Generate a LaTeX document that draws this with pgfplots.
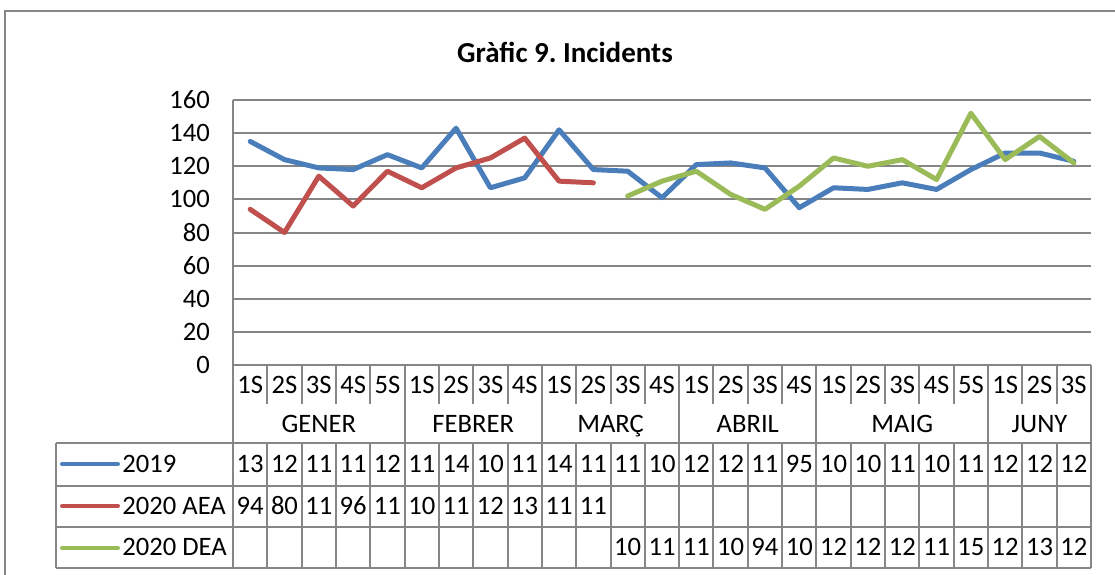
\documentclass[border=0pt]{standalone}
\usepackage{fontspec}
\setmainfont{Carlito}
\usepackage{pgfplots}
\pgfplotsset{compat=1.18}
\usepackage{pgfplotstable}

\definecolor{c2019}{RGB}{74,126,187}
\definecolor{cAEA}{RGB}{192,80,77}
\definecolor{cDEA}{RGB}{155,187,89}
\definecolor{linegray}{RGB}{134,134,134}

% weeks are numbered 0..24 (GENER 1S .. JUNY 3S)
\pgfplotstableread{
x y
0 135
1 124
2 119
3 118
4 127
5 119
6 143
7 107
8 113
9 142
10 118
11 117
12 101
13 121
14 122
15 119
16 95
17 107
18 106
19 110
20 106
21 118
22 128
23 128
24 123
}\tabA
\pgfplotstableread{
x y
0 94
1 80
2 114
3 96
4 117
5 107
6 119
7 125
8 137
9 111
10 110
}\tabB
\pgfplotstableread{
x y
11 102
12 111
13 117
14 103
15 94
16 108
17 125
18 120
19 124
20 112
21 152
22 124
23 138
24 122
}\tabC

\def\cw{34.32}
\newcommand\body{\fontsize{13.3}{16}\selectfont}
\frenchspacing

\begin{document}
\begin{tikzpicture}
\begin{axis}[
  at={(116.5pt,-182.5pt)}, anchor=south west,
  scale only axis, width=429pt, height=132.5pt,
  xmin=-0.5, xmax=24.5, ymin=0, ymax=160,
  ytick={0,20,...,160}, xtick=\empty,
  axis lines*=left,
  axis line style={linegray, line width=1pt, -},
  ymajorgrids,
  grid style={linegray, line width=1pt},
  major tick length=0pt,
  tick label style={font=\body},
  yticklabel style={xshift=-8pt},
  /pgf/number format/assume math mode=true,
  clip=false,
]
\addplot[c2019, line width=2.5pt, line join=round, line cap=round] table[x=x,y=y] {\tabA};
\addplot[cAEA, line width=2.5pt, line join=round, line cap=round] table[x=x,y=y] {\tabB};
\addplot[cDEA, line width=2.5pt, line join=round, line cap=round] table[x=x,y=y] {\tabC};
\end{axis}

\begin{scope}[x=0.5pt,y=-0.5pt]
\path[use as bounding box] (0,0) rectangle (1115,574);
\draw[linegray, line width=1pt] (5,590) -- (5,11) -- (1130,11);
\node[font=\fontsize{14.5}{17}\selectfont\bfseries, anchor=base, inner sep=0pt] at (565,62) {Gràfic 9. Incidents};

% data table under the axis
\begin{scope}[linegray, line width=1pt]
  \foreach \k in {1,2,3,4,6,7,8,10,11,12,14,15,16,18,19,20,21,23,24}
    \draw ({233+\k*\cw},365) -- ({233+\k*\cw},404);
  \foreach \k in {0,5,9,13,17,22,25}
    \draw ({233+\k*\cw},365) -- ({233+\k*\cw},568);
  \foreach \k in {1,2,3,4,6,7,8,10,11,12,14,15,16,18,19,20,21,23,24}
    \draw ({233+\k*\cw},443) -- ({233+\k*\cw},568);
  \draw (233,365) -- (1091,365);
  \foreach \yy in {443,485.5,527,568}
    \draw (56,\yy) -- (1091,\yy);
  \draw (56,443) -- (56,568);
\end{scope}

\begin{scope}[every node/.style={font=\body, anchor=base, inner sep=0pt}]
  \foreach \lab [count=\i from 0] in {1S,2S,3S,4S,5S,1S,2S,3S,4S,1S,2S,3S,4S,1S,2S,3S,4S,1S,2S,3S,4S,5S,1S,2S,3S}
    \node at ({233+(\i+0.5)*\cw},393) {\lab};
  \foreach \m/\c in {GENER/2.5,FEBRER/7,MARÇ/11,ABRIL/15,MAIG/19.5,JUNY/23.5}
    \node at ({233+\c*\cw},432) {\m};
  \foreach \v [count=\i from 0] in {13,12,11,11,12,11,14,10,11,14,11,11,10,12,12,11,95,10,10,11,10,11,12,12,12}
    \node at ({233+(\i+0.5)*\cw},472) {\v};
  \foreach \v [count=\i from 0] in {94,80,11,96,11,10,11,12,13,11,11}
    \node at ({233+(\i+0.5)*\cw},514) {\v};
  \foreach \v [count=\i from 11] in {10,11,11,10,94,10,12,12,12,11,15,12,13,12}
    \node at ({233+(\i+0.5)*\cw},555) {\v};
  \node[anchor=base west] at (122,472) {2019};
  \node[anchor=base west] at (122,514) {2020 AEA};
  \node[anchor=base west] at (122,555) {2020 DEA};
\end{scope}
\draw[c2019, line width=2pt, line cap=round] (62,464) -- (118,464);
\draw[cAEA, line width=2pt, line cap=round] (62,506) -- (118,506);
\draw[cDEA, line width=2pt, line cap=round] (62,548) -- (118,548);
\end{scope}
\end{tikzpicture}
\end{document}
